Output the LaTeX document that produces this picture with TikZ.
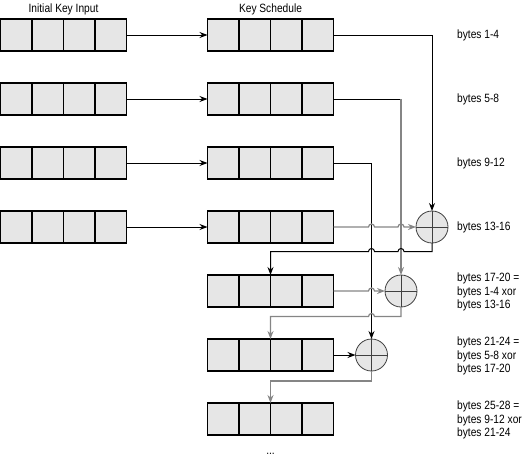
\documentclass[tikz,border=0pt]{standalone}
\usepackage{fontspec}
\setmainfont{Liberation Sans}[FakeStretch=0.85]
\usetikzlibrary{positioning,calc,arrows.meta}
\definecolor{cellgray}{HTML}{E6E6E6}
\definecolor{linegray}{HTML}{858585}

\begin{document}
\begin{tikzpicture}[
    x=1pt, y=1pt,
    node distance=32pt,
    keyrow/.style={draw, line width=1.1pt, fill=cellgray, minimum width=126pt, minimum height=32pt,
      inner sep=0pt, outer sep=0pt,
      path picture={\foreach \k in {1,2,3}
        \draw[line width=1.1pt] ($(path picture bounding box.south west)!\k/4!(path picture bounding box.south east)$)
          -- ($(path picture bounding box.north west)!\k/4!(path picture bounding box.north east)$);}},
    xorop/.style={circle, draw=black!75, line width=0.8pt, fill=cellgray, minimum size=32pt,
      inner sep=0pt, outer sep=0pt,
      path picture={\draw[line width=1pt] (path picture bounding box.north) -- (path picture bounding box.south)
        (path picture bounding box.west) -- (path picture bounding box.east);}},
    txt/.style={font=\fontsize{12}{13.5}\selectfont, inner sep=0pt},
    lbl/.style={txt, anchor=west, align=left},
    bline/.style={draw=black, line width=1pt},
    gline/.style={draw=linegray, line width=1.2pt},
    tip/.style={-{Stealth[length=8pt,width=6pt]}},
    hopr/.style 2 args={insert path={-- ($(#1 |- #2)+(-3,0)$) arc[start angle=180, end angle=0, radius=3]}},
    hopl/.style 2 args={insert path={-- ($(#1 |- #2)+(3,0)$) arc[start angle=0, end angle=180, radius=3]}}
]
\useasboundingbox (0,0) rectangle (526,-455);

% initial key input
\node[keyrow] (in0) at (63.5,-35) {};
\node[keyrow, below=of in0] (in1) {};
\node[keyrow, below=of in1] (in2) {};
\node[keyrow, below=of in2] (in3) {};
\node[txt, above=4pt of in0] (hin) {Initial Key Input};

% key schedule
\node[keyrow, right=81pt of in0] (k0) {};
\node[keyrow, below=of k0] (k1) {};
\node[keyrow, below=of k1] (k2) {};
\node[keyrow, below=of k2] (k3) {};
\node[keyrow, below=of k3] (k4) {};
\node[keyrow, below=of k4] (k5) {};
\node[keyrow, below=of k5] (k6) {};
\node[txt, above=4pt of k0] (hks) {Key Schedule};
\node[txt, anchor=base] (dots) at ($(k6.south)+(0,-19)$) {...};

% xor operators
\node[xorop, right=82.5pt of k3] (x1) {};
\node[xorop, right=51.5pt of k4] (x2) {};
\node[xorop, right=22pt of k5] (x3) {};

% byte labels
\node[lbl] (b0) at (457,-35) {bytes 1-4};
\node[lbl] (b1) at (457,-99) {bytes 5-8};
\node[lbl] (b2) at (457,-163) {bytes 9-12};
\node[lbl] (b3) at (457,-227) {bytes 13-16};
\node[lbl] (b4) at (457,-292) {bytes 17-20 =\\bytes 1-4 xor\\bytes 13-16};
\node[lbl] (b5) at (457,-356) {bytes 21-24 =\\bytes 5-8 xor\\bytes 17-20};
\node[lbl] (b6) at (457,-420) {bytes 25-28 =\\bytes 9-12 xor\\bytes 21-24};

\foreach \r in {0,...,3}
  \draw[bline, tip] (in\r) -- (k\r);

\draw[bline, tip] (k0.east) -| (x1.north);
\coordinate (c1) at (x2.north |- k1.east);
\draw[bline] (k1.east) -- (c1);
\draw[gline, tip] (c1) -- (x2.north);
\draw[bline, tip] (k2.east) -| (x3.north);
\draw[gline, tip] (k3.east) [hopr={x3.north}{k3.east}] [hopr={x2.north}{k3.east}] -- (x1.west);

\coordinate (t1) at ($(x1.south)+(0,-8.5)$);
\draw[bline, tip] (x1.south) -- (t1) [hopl={x2.north}{t1}] [hopl={x3.north}{t1}] -| (k4.north);
\draw[gline, tip] (k4.east) [hopr={x3.north}{k4.east}] -- (x2.west);

\coordinate (t2) at ($(x2.south)+(0,-9.5)$);
\draw[gline, tip] (x2.south) -- (t2) [hopl={x3.north}{t2}] -| (k5.north);
\draw[bline, tip] (k5.east) -- (x3.west);

\coordinate (t3) at ($(x3.south)+(0,-10)$);
\draw[gline, tip] (x3.south) -- (t3) -| (k6.north);
\end{tikzpicture}
\end{document}
